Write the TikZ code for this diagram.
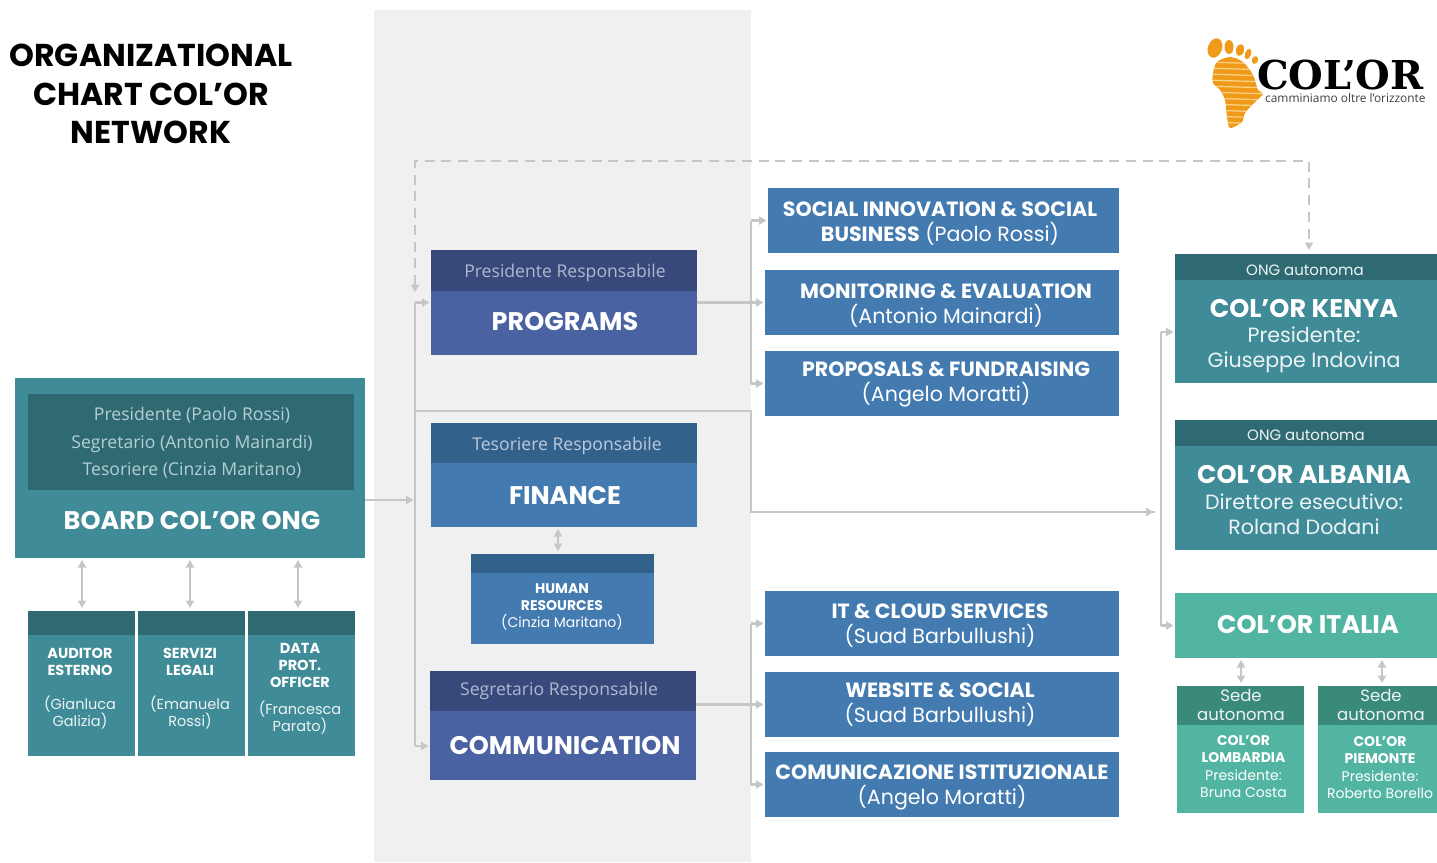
\documentclass[tikz,border=0pt]{standalone}
\usepackage{fontspec}
\setmainfont{Poppins}
\newfontfamily\opensans{Open Sans}
\newfontfamily\logoserif{DejaVu Serif}
\usetikzlibrary{arrows.meta,calc}
\definecolor{band}{HTML}{F0F0F0}
\definecolor{tealbody}{HTML}{3F8B97}
\definecolor{tealhead}{HTML}{2F6A73}
\definecolor{navybody}{HTML}{4A62A2}
\definecolor{navyhead}{HTML}{37487A}
\definecolor{bluebody}{HTML}{437AB0}
\definecolor{bluehead}{HTML}{32618C}
\definecolor{greenbody}{HTML}{52B5A2}
\definecolor{greenhead}{HTML}{3A8A79}
\definecolor{wire}{HTML}{C6C6C6}
\definecolor{logoorange}{HTML}{F09A1A}
\definecolor{logopale}{HTML}{F8D48A}
\definecolor{softteal}{HTML}{B4CFD4}
\definecolor{softnavy}{HTML}{AEB8CF}
\definecolor{softblue}{HTML}{BCCBDC}
\definecolor{softwhite}{HTML}{EEF4F6}
\newcommand\fs[2]{\fontsize{#1}{#2}\selectfont}
% name, x1, y1, x2, y2, colour
\newcommand\bx[6]{\path[fill=#6] (#2,#3) rectangle (#4,#5);
  \node[boxnode,minimum width=#4pt-#2pt,minimum height=#5pt-#3pt] (#1) at ({(#2+#4)/2},{(#3+#5)/2}) {};}
\tikzset{
  boxnode/.style={inner sep=0pt,outer sep=0pt,draw=none},
  wireline/.style={draw=wire,line width=2.3pt,-{Triangle[length=7.5pt,width=8pt]},shorten >=1.5pt},
  plainwire/.style={draw=wire,line width=2.3pt},
  dashwire/.style={draw=wire,line width=2.3pt,dash pattern=on 10pt off 6.7pt,{Triangle[length=7.5pt,width=8pt]}-{Triangle[length=7.5pt,width=8pt]}},
  twoway/.style={draw=wire,line width=2.3pt,{Triangle[length=7.5pt,width=8pt]}-{Triangle[length=7.5pt,width=8pt]},shorten >=2pt,shorten <=3pt},
  txt/.style={inner sep=0pt,outer sep=0pt,align=center,text=white},
  headtxt/.style={txt,font=\opensans\fs{17.6}{27.5},text=#1},
  bigtxt/.style={txt,font=\fs{25.5}{30}\bfseries},
  midtxt/.style={txt,font=\fs{20.6}{25}},
  smalltxt/.style={txt,font=\fs{14.5}{17}},
}
\begin{document}
\begin{tikzpicture}[x=1pt,y=-1pt]
\useasboundingbox (0,0) rectangle (1437,862);
\fill[white] (0,0) rectangle (1437,862);
\fill[band] (374,10) rectangle (751,862);

% title
\node[txt,text=black,font=\fs{31.6}{38.5}\bfseries] (title) at (151,94) {ORGANIZATIONAL\\CHART COL’OR\\NETWORK};

% logo
\fill[logoorange,rotate around={-20:(1215,48)}] (1215,48) ellipse [x radius=7,y radius=10];
\fill[logoorange] (1229,47) ellipse [x radius=4.5,y radius=7];
\fill[logoorange,rotate around={-15:(1240,50)}] (1240,50) ellipse [x radius=4,y radius=6];
\fill[logoorange,rotate around={-20:(1248,54)}] (1248,54) ellipse [x radius=3,y radius=5.5];
\fill[logoorange,rotate around={-20:(1255,60)}] (1255,60) ellipse [x radius=3,y radius=4];
\begin{scope}
\clip plot[smooth cycle] coordinates {(1213,73) (1217,62) (1230,57) (1243,62) (1253,75) (1258,90) (1263,94) (1255,102) (1245,113) (1242,122) (1230,128) (1227,117) (1225,100) (1220,90) (1213,83)};
\fill[logoorange] (1205,50) rectangle (1270,130);
\foreach \yy in {62,68,...,128} \draw[logopale,line width=1.2pt] (1205,\yy) -- (1270,\yy+2);
\end{scope}
\node[inner sep=0pt,anchor=base west,text=black,font=\logoserif\bfseries\fs{39.8}{40}] (logotext) at (1257,89.5) {COL’OR};
\node[inner sep=0pt,anchor=base west,text=black!75,font=\opensans\fs{11.9}{12}] (logotag) at (1265,102) {camminiamo oltre l’orizzonte};

% board
\bx{board}{15}{378}{365}{558}{tealbody}
\bx{boardhead}{28}{394}{354}{490}{tealhead}
\node[headtxt=softteal] (boardpeople) at (192,443) {Presidente (Paolo Rossi)\\Segretario (Antonio Mainardi)\\Tesoriere (Cinzia Maritano)};
\node[bigtxt] (boardtitle) at (192,521) {BOARD COL’OR ONG};

% staff boxes
\bx{auditor}{28}{611}{135}{756}{tealbody}
\bx{auditorh}{28}{611}{135}{635}{tealhead}
\bx{legal}{137.5}{611}{244.5}{756}{tealbody}
\bx{legalh}{137.5}{611}{244.5}{635}{tealhead}
\bx{dpo}{248}{611}{355}{756}{tealbody}
\bx{dpoh}{248}{611}{355}{635}{tealhead}
\node[smalltxt,font=\fs{14.5}{17}\bfseries] (auditort) at (80,662) {AUDITOR\\ESTERNO};
\node[smalltxt,text=softwhite] (auditorp) at (80,712.5) {(Gianluca\\Galizia)};
\node[smalltxt,font=\fs{14.5}{17}\bfseries] (legalt) at (190,662) {SERVIZI\\LEGALI};
\node[smalltxt,text=softwhite] (legalp) at (190,712.5) {(Emanuela\\Rossi)};
\node[smalltxt,font=\fs{14.5}{17}\bfseries] (dpot) at (300,665) {DATA\\PROT.\\OFFICER};
\node[smalltxt,text=softwhite] (dpop) at (300,717.5) {(Francesca\\Parato)};

% central column
\bx{programs}{431}{250}{697}{355}{navybody}
\bx{programsh}{431}{250}{697}{291}{navyhead}
\node[headtxt=softnavy] (programsr) at (565,272.5) {Presidente Responsabile};
\node[bigtxt] (programst) at (565,322) {PROGRAMS};
\bx{finance}{431}{423}{697}{527}{bluebody}
\bx{financeh}{431}{423}{697}{463}{bluehead}
\node[headtxt=softblue] (financer) at (567,446) {Tesoriere Responsabile};
\node[bigtxt] (financet) at (565,496) {FINANCE};
\bx{hr}{471}{554}{654}{644}{bluebody}
\bx{hrh}{471}{554}{654}{573}{bluehead}
\node[smalltxt,font=\fs{14}{17}] (hrt) at (562,606.5) {\textbf{HUMAN}\\\textbf{RESOURCES}\\(Cinzia Maritano)};
\bx{comm}{430}{671}{696}{780}{navybody}
\bx{commh}{430}{671}{696}{711}{navyhead}
\node[headtxt=softnavy] (commr) at (559,691) {Segretario Responsabile};
\node[bigtxt] (commt) at (565,746) {COMMUNICATION};

% right column
\bx{social}{768}{188}{1119}{253}{bluebody}
\node[midtxt] (socialt) at (940,224) {\textbf{SOCIAL INNOVATION \& SOCIAL}\\\textbf{BUSINESS} (Paolo Rossi)};
\bx{monitor}{765}{270}{1119}{335}{bluebody}
\node[midtxt] (monitort) at (946,306) {\textbf{MONITORING \& EVALUATION}\\(Antonio Mainardi)};
\bx{proposals}{765}{351}{1119}{416}{bluebody}
\node[midtxt] (proposalst) at (946,384.5) {\textbf{PROPOSALS \& FUNDRAISING}\\(Angelo Moratti)};
\bx{itcloud}{765}{591}{1119}{656}{bluebody}
\node[midtxt] (itcloudt) at (940,625.5) {\textbf{IT \& CLOUD SERVICES}\\(Suad Barbullushi)};
\bx{website}{765}{672}{1119}{737}{bluebody}
\node[midtxt] (websitet) at (940,704.5) {\textbf{WEBSITE \& SOCIAL}\\(Suad Barbullushi)};
\bx{istit}{765}{752}{1119}{817}{bluebody}
\node[midtxt] (istitt) at (942,787.5) {\textbf{COMUNICAZIONE ISTITUZIONALE}\\(Angelo Moratti)};

% network column
\bx{kenya}{1175}{254}{1437}{383}{tealbody}
\bx{kenyah}{1175}{254}{1437}{280}{tealhead}
\node[txt,font=\fs{15}{18},text=softwhite] (kenyar) at (1305,270.5) {ONG autonoma};
\node[bigtxt] (kenyat) at (1304,309) {COL’OR KENYA};
\node[midtxt,text=softwhite] (kenyap) at (1304,350) {Presidente:\\Giuseppe Indovina};
\bx{albania}{1175}{420}{1437}{550}{tealbody}
\bx{albaniah}{1175}{420}{1437}{446}{tealhead}
\node[txt,font=\fs{15}{18},text=softwhite] (albaniar) at (1306,435.5) {ONG autonoma};
\node[bigtxt] (albaniat) at (1304,475) {COL’OR ALBANIA};
\node[midtxt,text=softwhite] (albaniap) at (1304,514.5) {Direttore esecutivo:\\Roland Dodani};
\bx{italia}{1175}{593}{1437}{658}{greenbody}
\node[bigtxt] (italiat) at (1308,625) {COL’OR ITALIA};
\bx{lomb}{1177}{686}{1304}{813}{greenbody}
\bx{lombh}{1177}{686}{1304}{725}{greenhead}
\node[txt,font=\fs{16.5}{19},text=softwhite] (lombr) at (1241,705) {Sede\\autonoma};
\node[smalltxt,font=\fs{14}{17.2}] (lombt) at (1243.5,766.5) {\textbf{COL’OR}\\\textbf{LOMBARDIA}\\Presidente:\\Bruna Costa};
\bx{piem}{1318}{686}{1437}{813}{greenbody}
\bx{piemh}{1318}{686}{1437}{725}{greenhead}
\node[txt,font=\fs{16.5}{19},text=softwhite] (piemr) at (1381,705) {Sede\\autonoma};
\node[smalltxt,font=\fs{14}{17.2}] (piemt) at (1380,767.5) {\textbf{COL’OR}\\\textbf{PIEMONTE}\\Presidente:\\Roberto Borello};

% junctions
\coordinate (trunktop) at (415,302.5);
\coordinate (trunkbot) at (415,746);
\coordinate (boardout) at (415,500);
\coordinate (crossa) at (415,411);
\coordinate (crossb) at (751,411);
\coordinate (crossc) at (751,512);
\coordinate (nettrunk) at (1161,512);
\coordinate (crossend) at (1155,512);
\coordinate (dashstart) at (415,292);
\coordinate (topleft) at (415,161);
\coordinate (topright) at (1309,161);
\coordinate (dashend) at (1309,250);
\coordinate (prgsplit) at (751,302.5);
\coordinate (cmsplit) at (751,704.5);
\coordinate (kenyain) at (1175,332);
\coordinate (auditorup) at (82,558);
\coordinate (legalup) at (190,558);
\coordinate (dpoup) at (298,558);

% connectors
\draw[plainwire] (trunktop) -- (trunkbot);
\draw[wireline] (trunktop) -- (programs.west);
\draw[wireline] (trunkbot) -- (trunkbot -| comm.west);
\draw[wireline] (board.east |- boardout) -- (boardout);
\draw[plainwire] (crossa) -- (crossb) -- (crossc) -- (crossend);
\draw[wireline] (crossc) -- (crossend);
\draw[dashwire] (dashstart) -- (topleft) -- (topright) -- (dashend);
\draw[plainwire] (nettrunk |- kenyain) -- (nettrunk |- italia.west);
\draw[wireline] (nettrunk |- kenyain) -- (kenyain);
\draw[wireline] (nettrunk |- italia.west) -- (italia.west);

\draw[wireline] (programs.east) -- (monitor.west);
\draw[plainwire] (prgsplit |- social.west) -- (prgsplit |- proposals.west);
\draw[wireline] (prgsplit |- social.west) -- (social.west);
\draw[wireline] (prgsplit |- proposals.west) -- (proposals.west);
\draw[wireline] (comm.east |- cmsplit) -- (website.west);
\draw[plainwire] (cmsplit |- itcloud.west) -- (cmsplit |- istit.west);
\draw[wireline] (cmsplit |- itcloud.west) -- (itcloud.west);
\draw[wireline] (cmsplit |- istit.west) -- (istit.west);

\draw[twoway] (558,0 |- hr.north) -- (558,0 |- finance.south);
\draw[twoway] (82,0 |- auditor.north) -- (auditorup);
\draw[twoway] (190,0 |- legal.north) -- (legalup);
\draw[twoway] (298,0 |- dpo.north) -- (dpoup);
\draw[twoway] (1241,0 |- lomb.north) -- (1241,0 |- italia.south);
\draw[twoway] (1382,0 |- piem.north) -- (1382,0 |- italia.south);
\end{tikzpicture}
\end{document}
